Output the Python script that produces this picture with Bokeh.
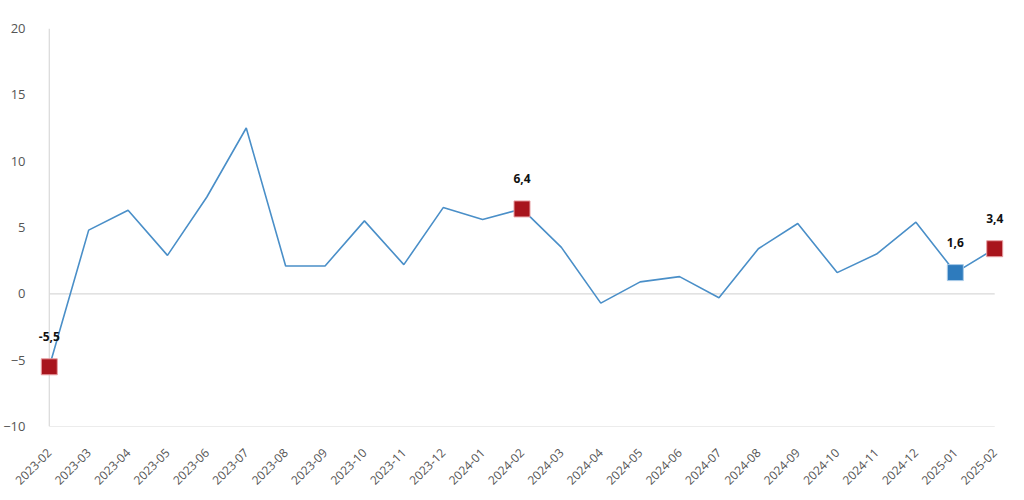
import math
from bokeh.plotting import figure
from bokeh.models import Range1d, FixedTicker, ColumnDataSource
from bokeh.core.properties import value
from bokeh.embed import file_html
from bokeh.resources import INLINE

months = ["2023-02", "2023-03", "2023-04", "2023-05", "2023-06", "2023-07", "2023-08",
          "2023-09", "2023-10", "2023-11", "2023-12", "2024-01", "2024-02", "2024-03",
          "2024-04", "2024-05", "2024-06", "2024-07", "2024-08", "2024-09", "2024-10",
          "2024-11", "2024-12", "2025-01", "2025-02"]
values = [-5.5, 4.8, 6.3, 2.9, 7.3, 12.5, 2.1, 2.1, 5.5, 2.2, 6.5, 5.6, 6.4, 3.5,
          -0.7, 0.9, 1.3, -0.3, 3.4, 5.3, 1.6, 3.0, 5.4, 1.6, 3.4]
highlight_red = ["2023-02", "2024-02", "2025-02"]
highlight_blue = ["2025-01"]
y_ticks = [-10, -5, 0, 5, 10, 15, 20]

FONT = "Open Sans"
xs = list(range(len(months)))
n = len(months)
PAD = 0.35

p = figure(width=1016, height=492, output_backend="svg", toolbar_location=None,
           x_range=Range1d(-PAD, n - 1 + PAD), y_range=Range1d(-10, 20),
           min_border_left=25, min_border_right=8, min_border_top=28, min_border_bottom=66)
p.outline_line_color = None
p.xgrid.visible = False
p.ygrid.visible = False

# axis-like guide lines spanning only the data extent
ymin, ymax = y_ticks[0], y_ticks[-1]
p.segment(x0=[0, 0, 0], y0=[0, ymin, ymin], x1=[n - 1, n - 1, 0], y1=[0, ymin, ymax],
          line_color="#d9d9d9", line_width=1.2)

p.line(xs, values, line_color="#4a8fc8", line_width=1.6)

def pts(names):
    idx = [months.index(m) for m in names]
    return dict(x=idx, y=[values[i] for i in idx],
                lab=[f"{values[i]:.1f}".replace(".", ",") for i in idx])

red = ColumnDataSource(pts(highlight_red))
blue = ColumnDataSource(pts(highlight_blue))
p.scatter("x", "y", source=red, marker="square", size=16, fill_color="#a8141c",
          line_color="#e8a0a4", line_width=1)
p.scatter("x", "y", source=blue, marker="square", size=16, fill_color="#2e7bbd",
          line_color="#a8cbe8", line_width=1)
for src in (red, blue):
    p.text("x", "y", text="lab", source=src, y_offset=-30,
           text_align="center", text_baseline="middle",
           text_font=value("Open Sans"), text_font_size="12px",
           text_font_style="bold", text_color="#111111")

p.xaxis.ticker = FixedTicker(ticks=xs)
p.xaxis.major_label_overrides = {i: m for i, m in enumerate(months)}
p.xaxis.major_label_orientation = math.pi / 4
p.yaxis.ticker = FixedTicker(ticks=y_ticks)
for ax in (p.xaxis, p.yaxis):
    ax.major_tick_line_color = None
    ax.minor_tick_line_color = None
    ax.axis_line_color = None
    ax.major_label_text_font = FONT
    ax.major_label_text_color = "#555555"
p.yaxis.major_label_text_font_size = "13px"
p.xaxis.major_label_text_font_size = "12px"
p.yaxis.major_label_standoff = 4
p.xaxis.major_label_standoff = 18

open("out.html", "w").write(file_html(p, INLINE))
